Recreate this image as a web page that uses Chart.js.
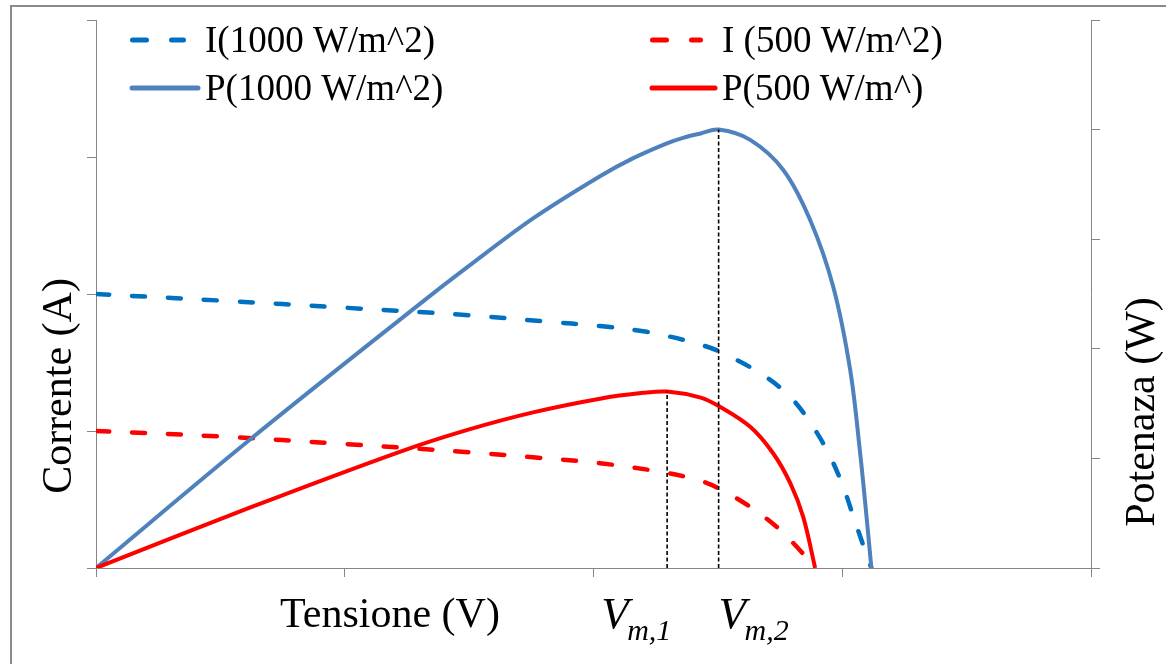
<!DOCTYPE html>
<html>
<head>
<meta charset="utf-8">
<script src="https://cdn.jsdelivr.net/npm/chart.js@4.4.1/dist/chart.umd.min.js"></script>
<style>
  html, body { margin: 0; padding: 0; background: #ffffff; }
  #wrap { position: relative; width: 1166px; height: 664px; overflow: hidden; }
  canvas { display: block; }
</style>
</head>
<body>
<div id="wrap"><canvas id="c" width="1166" height="664"></canvas></div>
<script>
// Curva I-V e P-V di un modulo fotovoltaico a due livelli di irraggiamento

// Tensione (V) e corrente (A) a 1000 W/m^2
const v_I1000 = [0, 0.5, 1.0, 1.5, 1.8, 2.026, 2.2, 2.3, 2.431, 2.509, 2.670, 2.791, 2.883, 2.952, 3.004, 3.044, 3.093, 3.117];
const i_I1000 = [2.0, 1.952, 1.900, 1.845, 1.800, 1.766, 1.728, 1.692, 1.630, 1.578, 1.422, 1.249, 1.030, 0.811, 0.592, 0.380, 0.120, 0];

// Tensione (V) e corrente (A) a 500 W/m^2
const v_I500 = [0, 0.5, 1.0, 1.5, 1.757, 2.026, 2.296, 2.431, 2.503, 2.630, 2.737, 2.818, 2.891];
const i_I500 = [1.0, 0.960, 0.905, 0.845, 0.808, 0.765, 0.694, 0.636, 0.582, 0.446, 0.299, 0.153, 0];

// Tensione (V) e potenza (W) a 1000 W/m^2
const v_P1000 = [0, 0.618, 1.302, 1.490, 1.757, 2.026, 2.160, 2.295, 2.360, 2.431, 2.503, 2.630, 2.763, 2.871, 2.964, 3.032, 3.072, 3.099, 3.117];
const p_P1000 = [0, 1.17, 2.41, 2.74, 3.19, 3.575, 3.740, 3.875, 3.925, 3.965, 4.0, 3.906, 3.632, 3.175, 2.563, 1.805, 1.047, 0.436, 0];

// Tensione (V) e potenza (W) a 500 W/m^2
const v_P500 = [0, 0.618, 1.221, 1.490, 1.757, 2.026, 2.200, 2.296, 2.431, 2.503, 2.630, 2.722, 2.791, 2.843, 2.891];
const p_P500 = [0, 0.55, 1.06, 1.258, 1.42, 1.545, 1.598, 1.61, 1.555, 1.478, 1.288, 1.047, 0.774, 0.466, 0];

// Punti di massima potenza: V_m,1 (500 W/m^2) e V_m,2 (1000 W/m^2)
const vm = [2.296, 2.503];
const pm = [1.61, 4.0];

// Etichette
const seriesLabels = ['I(1000 W/m^2)', 'I (500 W/m^2)', 'P(1000 W/m^2)', 'P(500 W/m^)'];
const xTitle = 'Tensione (V)';
const yLeftTitle = 'Corrente (A)';
const yRightTitle = 'Potenaza (W)';
const vmLabels = [['V', 'm,1'], ['V', 'm,2']];

const pts = (xs, ys) => xs.map((x, k) => ({ x: x, y: ys[k] }));

const BLUE_DASH = '#0070C0';
const BLUE = '#4F81BD';
const RED = '#FF0000';
const AXIS = '#868686';
const SERIF = '"Liberation Serif", "Times New Roman", serif';

const curveBase = {
  showLine: true,
  pointRadius: 0,
  pointHoverRadius: 0,
  tension: 0.35,
  fill: false
};

const datasets = [
  Object.assign({}, curveBase, {
    label: seriesLabels[0], data: pts(v_I1000, i_I1000), yAxisID: 'yI',
    borderColor: BLUE_DASH, borderWidth: 4.5, borderDash: [13, 23], borderCapStyle: 'round', order: 4
  }),
  Object.assign({}, curveBase, {
    label: seriesLabels[1], data: pts(v_I500, i_I500), yAxisID: 'yI',
    borderColor: RED, borderWidth: 4.5, borderDash: [13, 23], borderCapStyle: 'round', order: 3
  }),
  Object.assign({}, curveBase, {
    label: seriesLabels[2], data: pts(v_P1000, p_P1000), yAxisID: 'yP',
    borderColor: BLUE, borderWidth: 4, order: 2
  }),
  Object.assign({}, curveBase, {
    label: seriesLabels[3], data: pts(v_P500, p_P500), yAxisID: 'yP',
    borderColor: RED, borderWidth: 4, order: 1
  })
];

vm.forEach((v, k) => {
  datasets.push({
    label: 'Vm' + (k + 1),
    data: [{ x: v, y: 0 }, { x: v, y: pm[k] }],
    yAxisID: 'yP',
    showLine: true,
    pointRadius: 0,
    borderColor: '#000000',
    borderWidth: 1.6,
    borderDash: [4, 2.5],
    tension: 0,
    order: 0
  });
});

// Cornice esterna, legenda e titoli degli assi
const decorations = {
  id: 'decorations',
  beforeDraw(chart) {
    const ctx = chart.ctx;
    ctx.save();
    ctx.fillStyle = '#ffffff';
    ctx.fillRect(0, 0, chart.width, chart.height);
    ctx.fillStyle = '#8a8a8a';
    ctx.fillRect(10, 5, chart.width - 10, 2);
    ctx.fillRect(10, 5, 2, chart.height - 5);
    ctx.restore();
  },
  afterDraw(chart) {
    const ctx = chart.ctx;
    const ds = chart.data.datasets;
    ctx.save();

    // legenda su due colonne
    const items = [
      { d: ds[0], x0: 130, x1: 186, y: 40, tx: 205, ty: 52 },
      { d: ds[2], x0: 130, x1: 200, y: 88, tx: 205, ty: 100 },
      { d: ds[1], x0: 650, x1: 703, y: 40, tx: 722, ty: 52 },
      { d: ds[3], x0: 650, x1: 717, y: 88, tx: 722, ty: 100 }
    ];
    items.forEach(it => {
      ctx.beginPath();
      ctx.strokeStyle = it.d.borderColor;
      ctx.lineWidth = 5;
      ctx.lineCap = 'round';
      if (it.d.borderDash) {
        ctx.setLineDash([14, 25]);
        ctx.moveTo(it.x0 + 2.5, it.y);
        ctx.lineTo(it.x1 - 2.5, it.y);
      } else {
        ctx.setLineDash([]);
        ctx.moveTo(it.x0 + 2, it.y);
        ctx.lineTo(it.x1 - 2, it.y);
      }
      ctx.stroke();
      ctx.setLineDash([]);
      ctx.fillStyle = '#000000';
      ctx.font = '37px ' + SERIF;
      ctx.textAlign = 'left';
      ctx.textBaseline = 'alphabetic';
      ctx.fillText(it.d.label, it.tx, it.ty);
    });

    // titolo asse x
    ctx.fillStyle = '#000000';
    ctx.font = '42px ' + SERIF;
    ctx.textAlign = 'center';
    ctx.textBaseline = 'alphabetic';
    ctx.fillText(xTitle, 390, 627);

    // titoli assi verticali
    ctx.save();
    ctx.translate(71, 386);
    ctx.rotate(-Math.PI / 2);
    ctx.fillText(yLeftTitle, 0, 0);
    ctx.restore();

    ctx.save();
    ctx.translate(1154, 412);
    ctx.rotate(-Math.PI / 2);
    ctx.fillText(yRightTitle, 0, 0);
    ctx.restore();

    // etichette V_m sotto l'asse x
    const xs = chart.scales.x;
    const shift = [-66, 0];
    ctx.textAlign = 'left';
    vm.forEach((v, k) => {
      const px = xs.getPixelForValue(v) + shift[k];
      ctx.font = 'italic 45px ' + SERIF;
      ctx.fillText(vmLabels[k][0], px, 628);
      ctx.font = 'italic 30px ' + SERIF;
      ctx.fillText(vmLabels[k][1], px + 26, 640);
    });

    ctx.restore();
  }
};

const axisGrid = {
  drawOnChartArea: false,
  drawTicks: true,
  tickLength: 9,
  color: AXIS,
  lineWidth: 1
};
const axisBorder = { display: true, color: AXIS, width: 1 };

new Chart(document.getElementById('c'), {
  type: 'scatter',
  data: { datasets: datasets },
  options: {
    responsive: false,
    animation: false,
    devicePixelRatio: 1,
    layout: { padding: { top: 20, left: 0, right: 0, bottom: 0 } },
    plugins: {
      legend: { display: false },
      tooltip: { enabled: false }
    },
    scales: {
      x: {
        type: 'linear', position: 'bottom', min: 0, max: 4,
        ticks: { display: false, stepSize: 1 },
        grid: axisGrid, border: axisBorder,
        afterFit(s) { s.height = 96; }
      },
      yI: {
        type: 'linear', position: 'left', min: 0, max: 4,
        ticks: { display: false, stepSize: 1 },
        grid: axisGrid, border: axisBorder,
        afterFit(s) { s.width = 96; }
      },
      yP: {
        type: 'linear', position: 'right', min: 0, max: 5,
        ticks: { display: false, stepSize: 1 },
        grid: axisGrid, border: axisBorder,
        afterFit(s) { s.width = 75; }
      }
    }
  },
  plugins: [decorations]
});
</script>
</body>
</html>
